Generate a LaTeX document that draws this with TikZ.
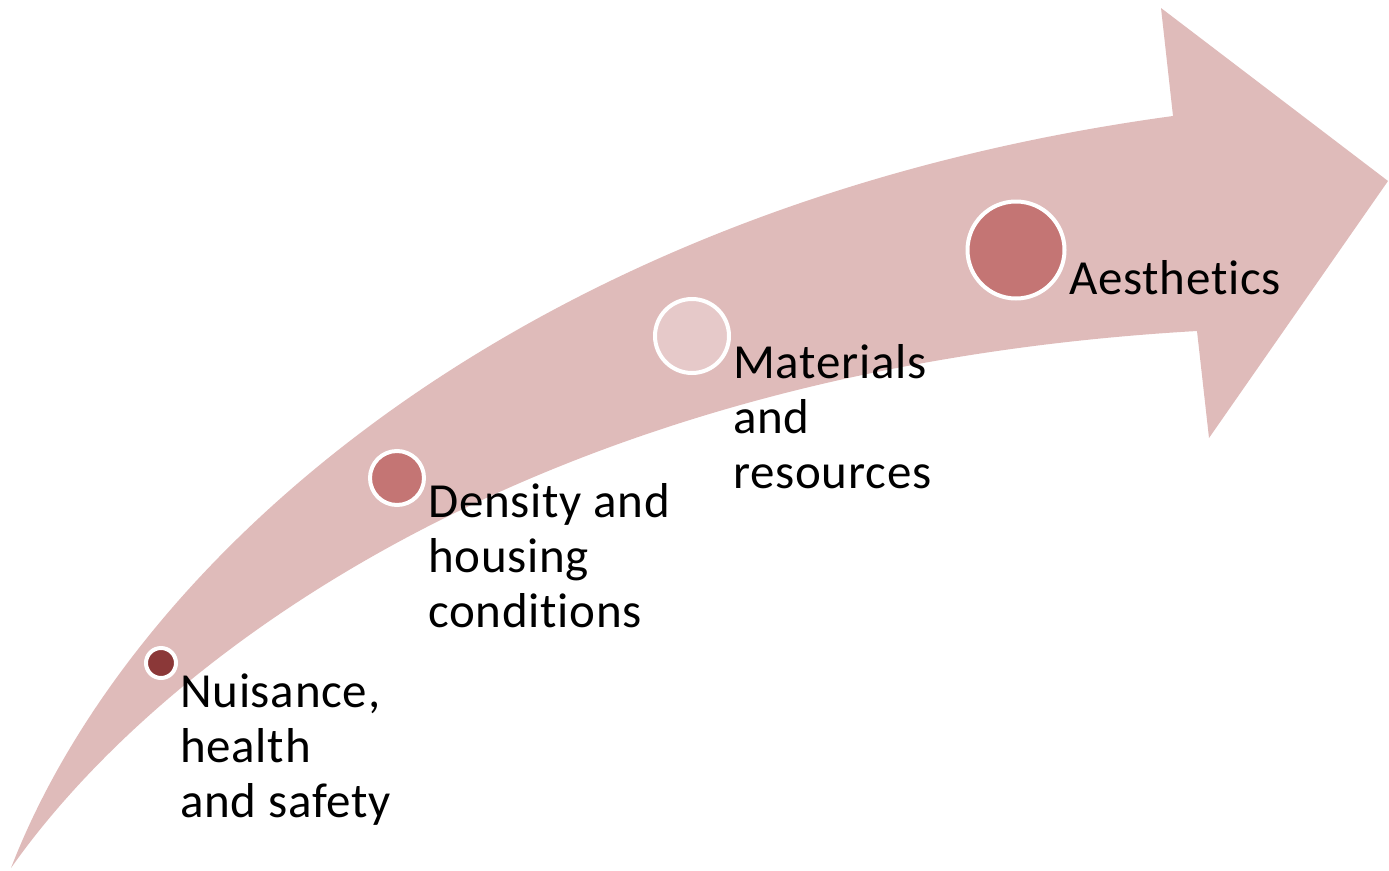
\documentclass[tikz,border=0pt]{standalone}
\usepackage{fontspec}
\setmainfont[Ligatures={NoCommon},LetterSpace=1.5]{Carlito}
\definecolor{bandc}{RGB}{223,187,186}
\definecolor{darkc}{RGB}{139,56,56}
\definecolor{midc}{RGB}{196,117,116}
\definecolor{lightc}{RGB}{230,201,201}
\begin{document}
\begin{tikzpicture}[x=1pt,y=-1pt,
  band/.style={fill=bandc, draw=none},
  dot/.style={circle, draw=white, line width=4pt, inner sep=0pt},
  lbl/.style={anchor=north west, inner sep=0pt, align=left, font=\fontsize{49}{55}\selectfont}]
\useasboundingbox (0,0) rectangle (1389,870);
\fill[band] (11,868) .. controls (130,560) and (520,205) .. (1173,116)
  -- (1161,8) -- (1388,181) -- (1209,438) -- (1197,331)
  .. controls (520,370) and (150,670) .. (11,868) -- cycle;
\node[dot, fill=darkc, minimum size=30pt] (c1) at (161,663) {};
\node[dot, fill=midc, minimum size=54pt] (c2) at (397,478) {};
\node[dot, fill=lightc, minimum size=74pt] (c3) at (692,336) {};
\node[dot, fill=midc, minimum size=97pt] (c4) at (1016,250) {};
\node[lbl] (t1) at (180,668.5) {\strut Nuisance,\\health\\and safety};
\node[lbl] (t2) at (428,478.5) {\strut Density and\\housing\\conditions};
\node[lbl] (t3) at (733,339.5) {\strut Materials\\and\\resources};
\node[lbl] (t4) at (1069,255.5) {\strut Aesthetics};
\end{tikzpicture}
\end{document}
